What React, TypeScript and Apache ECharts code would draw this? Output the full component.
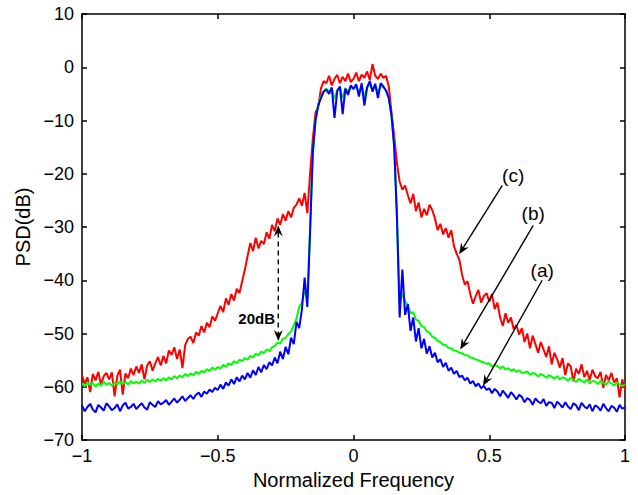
import React, { useEffect, useRef } from "react";
import * as echarts from "echarts";

// Frequency grid: -1 .. 1, step 0.01 (201 bins)
const freqStart = -1;
const freqStep = 0.01;

// (a) blue
const psdA = [
  -63.5, -64.6, -63.8, -63.2, -64.3, -64.8, -63.4, -63.9, -64.5, -63.1,
  -63.7, -64.4, -64.0, -63.3, -64.6, -63.5, -63.0, -64.1, -63.8, -63.2,
  -64.2, -63.6, -63.1, -63.9, -64.3, -62.9, -63.4, -63.8, -62.7, -63.3,
  -63.0, -62.5, -63.4, -62.8, -62.2, -63.0, -62.4, -61.8, -62.7, -62.1,
  -61.6, -62.3, -61.5, -61.1, -61.9, -60.9, -61.3, -60.5, -61.0, -60.2,
  -60.6, -59.6, -60.4, -59.2, -59.8, -58.6, -59.5, -58.2, -59.0, -57.9,
  -58.6, -57.4, -58.3, -56.9, -57.8, -56.3, -57.3, -55.9, -56.7, -55.4,
  -56.0, -54.5, -55.6, -53.4, -54.8, -52.5, -53.9, -50.8, -52.0, -47.8,
  -49.0, -45.5, -39.5, -45.0, -31.0, -16.0, -10.0, -7.2, -5.8, -4.6,
  -4.2, -5.0, -3.8, -9.5, -4.5, -3.6, -8.8, -4.0, -5.2, -3.4,
  -4.1, -3.2, -5.5, -3.0, -7.2, -3.8, -2.6, -4.6, -3.1, -5.8,
  -3.0, -3.6, -4.4, -5.8, -9.0, -15.0, -28.0, -47.0, -38.0, -46.5,
  -44.5, -49.5, -47.0, -51.5, -49.0, -52.8, -51.0, -53.8, -52.4, -54.5,
  -53.6, -55.4, -54.8, -56.3, -55.5, -57.0, -56.4, -57.6, -57.0, -58.2,
  -57.9, -58.8, -58.3, -59.4, -58.9, -59.9, -59.4, -60.3, -59.8, -60.6,
  -60.3, -61.2, -60.4, -60.9, -61.8, -60.7, -61.4, -62.1, -61.0, -61.6,
  -62.4, -61.5, -61.9, -62.9, -62.1, -62.5, -63.4, -62.2, -62.8, -63.1,
  -62.3, -63.6, -62.9, -63.0, -64.0, -62.8, -63.3, -63.9, -62.9, -63.7,
  -64.2, -63.1, -63.5, -64.4, -63.0, -63.7, -64.1, -63.3, -64.6, -63.5,
  -63.8, -64.5, -63.2, -64.0, -64.6, -63.6, -63.9, -64.7, -63.4, -64.1,
  -63.9,
];

// (b) green
const psdB = [
  -59.4, -59.9, -59.2, -59.7, -59.3, -60.0, -59.4, -59.8, -59.1, -59.6,
  -59.3, -59.8, -59.2, -59.6, -59.0, -59.5, -59.1, -59.6, -58.9, -59.4,
  -59.0, -59.4, -58.8, -59.3, -58.7, -59.1, -58.6, -59.0, -58.5, -58.9,
  -58.4, -58.8, -58.2, -58.6, -58.0, -58.4, -57.9, -58.2, -57.6, -58.0,
  -57.5, -57.8, -57.2, -57.6, -57.0, -57.3, -56.7, -57.0, -56.4, -56.8,
  -56.3, -56.6, -55.9, -56.2, -55.6, -55.9, -55.2, -55.6, -54.9, -55.2,
  -54.6, -54.9, -54.2, -54.5, -53.8, -54.1, -53.4, -53.7, -53.0, -53.3,
  -52.6, -52.3, -51.7, -51.9, -51.0, -50.8, -50.1, -49.6, -48.5, -47.2,
  -45.0, -44.2, -42.0, -43.5, -30.5, -16.5, -10.0, -7.0, -5.5, -4.5,
  -4.0, -4.6, -3.9, -6.0, -4.3, -3.7, -5.8, -3.9, -4.6, -3.6,
  -4.0, -3.5, -4.8, -3.4, -5.6, -3.8, -3.2, -4.2, -3.4, -4.8,
  -3.4, -3.8, -4.3, -5.8, -9.2, -15.0, -28.0, -44.5, -42.5, -44.0,
  -44.6, -46.2, -46.0, -47.4, -47.6, -48.6, -48.8, -49.6, -49.8, -50.6,
  -50.8, -51.4, -51.6, -52.1, -52.2, -52.7, -52.8, -53.2, -53.3, -53.6,
  -53.7, -54.1, -54.1, -54.5, -54.6, -54.9, -55.0, -55.3, -55.4, -55.7,
  -55.6, -56.2, -55.9, -56.1, -56.6, -56.2, -56.8, -56.5, -57.0, -56.7,
  -57.2, -56.9, -57.4, -57.3, -57.1, -57.8, -57.4, -57.6, -58.1, -57.6,
  -57.9, -58.3, -57.8, -58.1, -58.5, -58.0, -58.6, -58.2, -58.4, -58.9,
  -58.3, -58.7, -59.1, -58.5, -58.9, -59.2, -58.6, -59.4, -58.9, -59.0,
  -59.5, -58.9, -59.3, -59.6, -59.0, -59.4, -59.8, -59.2, -59.5, -59.9,
  -59.5,
];

// (c) red
const psdC = [
  -57.8, -59.5, -58.2, -61.0, -57.6, -58.8, -57.2, -59.6, -58.0, -57.4,
  -58.6, -57.3, -61.8, -58.0, -56.8, -61.5, -57.5, -58.4, -56.6, -57.8,
  -56.2, -57.4, -55.8, -58.6, -56.0, -55.2, -57.0, -55.6, -54.4, -56.0,
  -54.2, -55.6, -53.2, -54.0, -52.6, -54.8, -53.0, -56.5, -52.2, -51.0,
  -50.6, -51.8, -49.8, -50.4, -48.6, -49.8, -48.0, -48.8, -46.8, -47.6,
  -46.2, -44.8, -46.0, -43.4, -44.6, -42.6, -43.8, -41.6, -42.4, -40.2,
  -38.0, -35.4, -33.0, -34.5, -32.0, -34.0, -32.6, -33.2, -31.0, -32.2,
  -29.6, -30.8, -28.4, -29.6, -27.6, -28.8, -27.0, -28.2, -26.4, -25.8,
  -24.6, -26.0, -23.6, -27.4, -20.0, -13.5, -8.5, -7.5, -4.0, -2.6,
  -3.0, -1.6, -3.4, -2.2, -1.4, -3.0, -1.8, -2.6, -1.2, -2.8,
  -2.2, -1.0, -2.6, -1.4, -2.0, -0.8, -2.4, 0.6, -1.6, -2.2,
  -1.2, -2.0, -1.6, -3.6, -8.5, -13.0, -18.0, -21.5, -23.0, -22.2,
  -24.0, -25.6, -23.8, -27.0, -25.4, -28.2, -26.6, -27.8, -25.8, -26.8,
  -28.4, -30.6, -29.4, -31.4, -30.2, -32.0, -30.6, -33.6, -35.0, -36.2,
  -39.0, -40.8, -40.2, -42.6, -44.4, -43.0, -41.8, -44.2, -43.0, -42.4,
  -44.0, -42.6, -45.4, -44.2, -47.0, -48.6, -46.2, -48.0, -47.0, -49.2,
  -48.4, -50.2, -49.0, -51.6, -50.0, -52.8, -50.4, -52.0, -53.6, -51.6,
  -53.0, -54.4, -52.4, -55.8, -53.6, -54.8, -56.4, -54.6, -57.8, -55.6,
  -56.2, -59.0, -56.6, -57.6, -55.8, -58.2, -57.0, -58.8, -56.8, -58.0,
  -58.4, -57.2, -60.2, -57.8, -58.8, -57.4, -59.2, -58.4, -62.0, -58.6,
  -60.5,
];

const xTicks = { min: -1, max: 1, interval: 0.5 };
const yTicks = { min: -70, max: 10, interval: 10 };

// Annotations in data coordinates
const curveNotes = [
  { label: "(c)", lx: 0.588, ly: -20.4, tx: 0.548, ty: -22.2, hx: 0.389, hy: -35.1 },
  { label: "(b)", lx: 0.662, ly: -27.5, tx: 0.662, ty: -29.7, hx: 0.393, hy: -53.0 },
  { label: "(a)", lx: 0.695, ly: -38.1, tx: 0.695, ty: -40.0, hx: 0.477, hy: -59.8 },
];
const gapNote = { label: "20dB", x: -0.277, top: -29.7, bottom: -51.4, textX: -0.289, textY: -47.1 };

const FONT = "'Liberation Sans', Arial, Helvetica, sans-serif";

function toPairs(vals: number[]) {
  return vals.map((v, i) => [+(freqStart + i * freqStep).toFixed(2), v]);
}

function fmt(v: number) {
  const s = Number.isInteger(v) ? String(v) : v.toFixed(1);
  return s.replace("-", "\u2212");
}

function headPoly(tip: number[], tail: number[], L = 11, W = 4.5) {
  const dx = tip[0] - tail[0];
  const dy = tip[1] - tail[1];
  const len = Math.hypot(dx, dy) || 1;
  const ux = dx / len, uy = dy / len;
  const nx = -uy, ny = ux;
  const bx = tip[0] - ux * L, by = tip[1] - uy * L;
  const notch = [tip[0] - ux * L * 0.65, tip[1] - uy * L * 0.65];
  return {
    points: [
      [tip[0], tip[1]],
      [bx + nx * W, by + ny * W],
      notch,
      [bx - nx * W, by - ny * W],
    ],
    notch,
  };
}

export default function App() {
  const ref = useRef<HTMLDivElement>(null);
  useEffect(() => {
    if (!ref.current) return;
    const chart = echarts.init(ref.current, null, { renderer: "svg" });
    const axisLine = { show: true, onZero: false, lineStyle: { color: "#000", width: 1.5 } };
    const axisTick = { show: true, inside: true, length: 5, lineStyle: { color: "#000", width: 1.5 } };
    const label = { color: "#000", fontSize: 18, fontFamily: FONT, formatter: fmt };
    const option: any = {
      animation: false,
      backgroundColor: "#fff",
      grid: { left: 82, right: 13, top: 14, bottom: 52 },
      xAxis: [
        {
          type: "value", ...xTicks, position: "bottom",
          axisLine, axisTick, splitLine: { show: false },
          axisLabel: { ...label, margin: 7 },
          name: "Normalized Frequency", nameLocation: "middle", nameGap: 30,
          nameTextStyle: { color: "#000", fontSize: 20, fontFamily: FONT },
        },
        {
          type: "value", ...xTicks, position: "top",
          axisLine, axisTick, splitLine: { show: false }, axisLabel: { show: false },
        },
      ],
      yAxis: [
        {
          type: "value", ...yTicks, position: "left",
          axisLine, axisTick, splitLine: { show: false },
          axisLabel: { ...label, margin: 8 },
          name: "PSD(dB)", nameLocation: "middle", nameGap: 45, nameRotate: 90,
          nameTextStyle: { color: "#000", fontSize: 20, fontFamily: FONT },
        },
        {
          type: "value", ...yTicks, position: "right",
          axisLine, axisTick, splitLine: { show: false }, axisLabel: { show: false },
        },
      ],
      series: [
        { name: "(c)", data: toPairs(psdC), color: "#ff0000" },
        { name: "(b)", data: toPairs(psdB), color: "#00ff00" },
        { name: "(a)", data: toPairs(psdA), color: "#0000ff" },
      ].map((s, k) => ({
        type: "line",
        name: s.name,
        data: s.data,
        showSymbol: false,
        symbol: "none",
        silent: true,
        z: 2 + k,
        lineStyle: { color: s.color, width: 2 },
        itemStyle: { color: s.color },
      })),
    };
    chart.setOption(option);

    const px = (x: number, y: number) => chart.convertToPixel({ gridIndex: 0 }, [x, y]) as number[];
    const graphics: any[] = [];
    curveNotes.forEach((n) => {
      const tail = px(n.tx, n.ty);
      const tip = px(n.hx, n.hy);
      const h = headPoly(tip, tail);
      graphics.push({
        type: "line", z: 20,
        shape: { x1: tail[0], y1: tail[1], x2: h.notch[0], y2: h.notch[1] },
        style: { stroke: "#000", lineWidth: 1.4 },
      });
      graphics.push({ type: "polygon", z: 20, shape: { points: h.points }, style: { fill: "#000" } });
      const lp = px(n.lx, n.ly);
      graphics.push({
        type: "text", z: 20, x: lp[0], y: lp[1],
        style: { text: n.label, fill: "#000", fontSize: 19, fontFamily: FONT, align: "center", verticalAlign: "middle" },
      });
    });
    {
      const top = px(gapNote.x, gapNote.top);
      const bot = px(gapNote.x, gapNote.bottom);
      const hTop = headPoly(top, bot, 11, 4.5);
      const hBot = headPoly(bot, top, 11, 4.5);
      graphics.push({
        type: "line", z: 20,
        shape: { x1: hTop.notch[0], y1: hTop.notch[1], x2: hBot.notch[0], y2: hBot.notch[1] },
        style: { stroke: "#000", lineWidth: 1.4, lineDash: [5, 4] },
      });
      graphics.push({ type: "polygon", z: 20, shape: { points: hTop.points }, style: { fill: "#000" } });
      graphics.push({ type: "polygon", z: 20, shape: { points: hBot.points }, style: { fill: "#000" } });
      const tp = px(gapNote.textX, gapNote.textY);
      graphics.push({
        type: "text", z: 20, x: tp[0], y: tp[1],
        style: { text: gapNote.label, fill: "#000", fontSize: 15, fontWeight: "bold", fontFamily: FONT, align: "right", verticalAlign: "middle" },
      });
    }
    chart.setOption({ graphic: graphics });
    return () => chart.dispose();
  }, []);
  return (
    <div
      ref={ref}
      style={{ position: "fixed", left: 0, top: 0, width: 638, height: 495, background: "#fff" }}
    />
  );
}
